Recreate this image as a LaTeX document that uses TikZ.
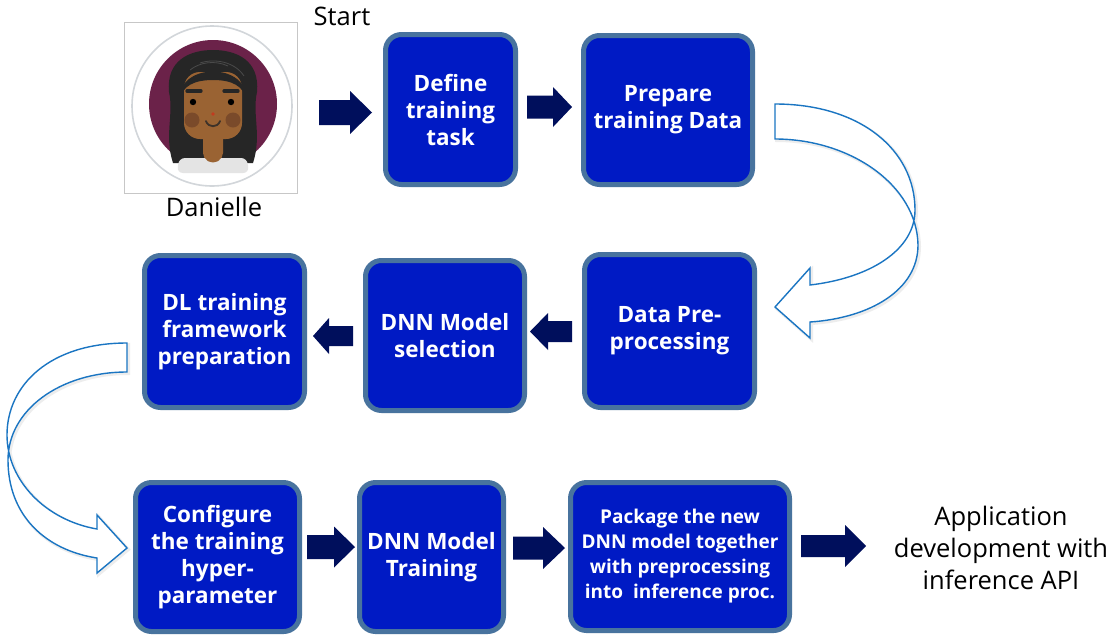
\documentclass[tikz,border=0pt]{standalone}
\usepackage{fontspec}
\setmainfont{Open Sans}
\definecolor{boxfill}{HTML}{001AC4}
\definecolor{boxedge}{HTML}{48739E}
\definecolor{arrowfill}{HTML}{000F5C}
\definecolor{curveline}{HTML}{1A75C2}
\definecolor{bgpurple}{HTML}{6B2249}
\definecolor{hair}{HTML}{262626}
\definecolor{hairline}{HTML}{4A4A4A}
\definecolor{skin}{HTML}{9A6333}
\definecolor{cheek}{HTML}{7A4A2A}
\definecolor{shirt}{HTML}{E4E4E4}
\definecolor{ring}{HTML}{D2D6DA}
\tikzset{
  stepbox/.style={draw=boxedge, fill=boxfill, line width=5pt, rounded corners=16pt,
    text=white, align=center, inner sep=0pt,
    font=\bfseries\fontsize{22.5}{27}\selectfont},
  smallbox/.style={stepbox, font=\bfseries\fontsize{19}{25}\selectfont},
  label/.style={font=\fontsize{25.5}{32}\selectfont, inner sep=0pt, align=center},
  curvearrow/.style={draw=curveline, line width=1.4pt, fill=white, line join=miter},
  curveshadow/.style={draw=black!7, line width=3pt},
  pics/barrow/.style n args={4}{code={
    \fill[arrowfill] (0,-#3) -- (#1,-#3) -- (#1,-#4) -- (#2,0) -- (#1,#4) -- (#1,#3) -- (0,#3) -- cycle;
  }}
}
\begin{document}
\begin{tikzpicture}[x=1pt,y=-1pt]
\useasboundingbox (0,0) rectangle (1115,638);
\fill[white] (0,0) rectangle (1115,638);

% ---- avatar ----
\node[draw=black!22, line width=0.8pt, minimum width=173, minimum height=171, inner sep=0pt] (avatar) at (210.5,107.5) {};
\draw[ring, line width=1.6pt, fill=white] (212,106) circle (80);
\fill[bgpurple] (213,104) circle (64);
% back hair
\fill[hair] (173,163) .. controls (164,135) and (174,115) .. (169,92)
  .. controls (166,60) and (190,50) .. (213,50)
  .. controls (236,50) and (260,60) .. (257,92)
  .. controls (252,115) and (262,135) .. (253,163) -- cycle;
% shirt and neck
\fill[shirt, rounded corners=6pt] (177,173) -- (179,158) -- (247,158) -- (249,173) -- cycle;
\fill[skin, rounded corners=5pt] (203,128) -- (203,158) -- (213,164) -- (223,158) -- (223,128) -- cycle;
% face
\fill[skin, rounded corners=16pt] (184,72) rectangle (242,139);
% fringe
\fill[hair] (180,100) .. controls (177,62) and (249,62) .. (246,100)
  .. controls (244,86) and (232,80) .. (213,80)
  .. controls (194,80) and (182,86) .. (180,100) -- cycle;
\draw[hairline, line width=0.8pt] (190,70) .. controls (200,62) and (215,60) .. (228,66);
\draw[hairline, line width=0.8pt] (200,63) .. controls (215,58) and (235,62) .. (244,76);
% features
\draw[hair, line width=3.2pt, line cap=round] (187,91) -- (201,91) (224,91) -- (238,91);
\fill[black] (193,102) circle (3.2) (231,102) circle (3.2);
\fill[cheek] (192,120) circle (7.5) (233,120) circle (7.5);
\fill[red!40!skin] (213,114) circle (1.8);
\draw[hair!80!skin, line width=1.8pt, line cap=round] (206,121) .. controls (208,128) and (218,128) .. (220,121);

\node[label] (start) at (342,16) {Start};
\node[label] (name) at (214,207) {Danielle};

% ---- process steps ----
\node[stepbox, minimum width=130, minimum height=150] (b1) at (450.5,109.5) {Define\\training\\task};
\node[stepbox, minimum width=169, minimum height=149] (b2) at (668,110) {Prepare\\training Data};
\node[stepbox, minimum width=170, minimum height=153] (b3) at (669.5,331) {Data Pre-\\processing};
\node[stepbox, minimum width=159, minimum height=150] (b4) at (445,335.5) {DNN Model\\selection};
\node[stepbox, minimum width=160, minimum height=152] (b5) at (224.5,331.5) {DL training\\framework\\preparation};
\node[stepbox, minimum width=164, minimum height=149] (b6) at (217.5,557) {Configure\\the training\\hyper-\\parameter};
\node[stepbox, minimum width=144, minimum height=149] (b7) at (431.5,557) {DNN Model\\Training};
\node[smallbox, minimum width=219, minimum height=148] (b8) at (680,556.5) {Package the new\\DNN model together\\with preprocessing\\into\ \ inference proc.};

\node[label] (app) at (1001,548) {Application\\development with\\inference API};

% ---- block arrows ----
\pic at (319,112.5) {barrow={31}{53}{12.5}{21.5}};
\pic at (527,107) {barrow={26}{45}{11.5}{20}};
\pic[rotate=180] at (572,331.5) {barrow={24}{42}{10.5}{18.5}};
\pic[rotate=180] at (353,336) {barrow={24}{40}{10}{18}};
\pic at (307,547) {barrow={27}{48}{12}{20.5}};
\pic at (513,548) {barrow={30}{52}{11.5}{21}};
\pic at (801,546) {barrow={44}{65}{11}{21}};

% ---- curved outline arrows ----
\begin{scope}[xshift=1.5pt, yshift=-1.5pt]
\draw[curveshadow] (775,104) -- (775,139)
  .. controls (850,139) and (917,185) .. (918,245)
  .. controls (918,290) and (870,318) .. (810,322)
  -- (810,338) -- (775,307) -- (810,268) -- (810,285)
  .. controls (870,278) and (915,250) .. (915,210)
  .. controls (915,150) and (860,104) .. (775,104) -- cycle;
\draw[curveshadow] (127,343) -- (127,372)
  .. controls (60,372) and (8,410) .. (8,460)
  .. controls (8,515) and (45,550) .. (97,558)
  -- (97,573) -- (127,548) -- (97,515) -- (97,529)
  .. controls (45,520) and (7,480) .. (7,435)
  .. controls (7,385) and (50,343) .. (127,343) -- cycle;
\end{scope}
\draw[curvearrow] (775,104) -- (775,139)
  .. controls (850,139) and (917,185) .. (918,245)
  .. controls (918,290) and (870,318) .. (810,322)
  -- (810,338) -- (775,307) -- (810,268) -- (810,285)
  .. controls (870,278) and (915,250) .. (915,210)
  .. controls (915,150) and (860,104) .. (775,104) -- cycle;
\draw[curvearrow] (127,343) -- (127,372)
  .. controls (60,372) and (8,410) .. (8,460)
  .. controls (8,515) and (45,550) .. (97,558)
  -- (97,573) -- (127,548) -- (97,515) -- (97,529)
  .. controls (45,520) and (7,480) .. (7,435)
  .. controls (7,385) and (50,343) .. (127,343) -- cycle;
\end{tikzpicture}
\end{document}
